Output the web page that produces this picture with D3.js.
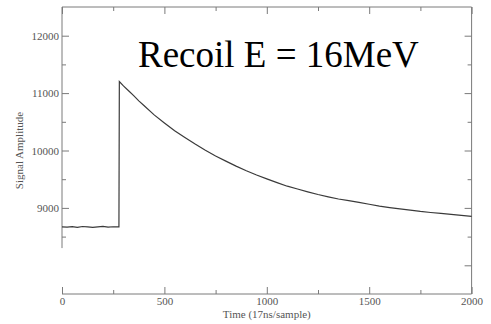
<!DOCTYPE html>
<html>
<head>
<meta charset="utf-8">
<script src="https://cdn.jsdelivr.net/npm/d3@7/dist/d3.min.js"></script>
<style>
  html, body { margin: 0; padding: 0; background: #fff; }
  svg { display: block; }
  text { font-family: "Liberation Serif", "Times New Roman", "DejaVu Serif", serif; }
</style>
</head>
<body>
<svg id="chart" width="491" height="324"></svg>
<script>
// ---- data ----
const sampleTime = [0, 25, 50, 75, 100, 125, 150, 175, 200, 225, 250, 278,
  280, 300, 325, 350, 375, 400, 450, 500, 550, 600, 650, 700, 750, 800, 850,
  900, 950, 1000, 1050, 1100, 1150, 1200, 1250, 1300, 1350, 1400, 1450, 1500,
  1550, 1600, 1650, 1700, 1750, 1800, 1850, 1900, 1950, 2000];
const amplitude = [8670, 8665, 8674, 8660, 8676, 8668, 8661, 8671, 8679, 8664, 8672, 8668,
  11200, 11125, 11040, 10955, 10865, 10785, 10620, 10480, 10345, 10228, 10112, 10005,
  9905, 9815, 9728, 9648, 9574, 9505, 9440, 9378, 9330, 9280, 9233, 9192, 9155, 9126,
  9095, 9064, 9030, 9006, 8984, 8960, 8938, 8920, 8904, 8886, 8870, 8852];

const xMajorTicks = [0, 500, 1000, 1500, 2000];
const xMinorTicks = [250, 750, 1250, 1750];
const yLabelTicks = [9000, 10000, 11000, 12000];
const yLabelMinor = [8500, 9500, 10500, 11500];
const yRightMajor = [8000, 9000, 10000, 11000, 12000];
const yRightMinor = [8500, 9500, 10500, 11500];
const xDomain = [0, 2000];
const yDomain = [7500, 12500];
const leftAxisLowEnd = 8300;   // left frame line visibly stops here
const xTitle = "Time (17ns/sample)";
const yTitle = "Signal Amplitude";
const annotation = "Recoil E = 16MeV";

// ---- layout ----
const svg = d3.select("#chart");
const L = 62, R = 471.6, T = 7, B = 294;
const x = d3.scaleLinear().domain(xDomain).range([L, R]);
const y = d3.scaleLinear().domain(yDomain).range([B, T]);
const axisColor = "#7a7a7a";
const textColor = "#555";
const MAJ = 7, MIN = 4;

function style(g) {
  g.selectAll("path.domain").remove();
  g.selectAll(".tick line").attr("stroke", axisColor).attr("stroke-width", 1);
  g.selectAll(".tick text").attr("fill", textColor)
    .style("font-family", '"Liberation Serif", "Times New Roman", serif')
    .style("font-size", "11px");
}

// frame lines
const frame = svg.append("g").attr("stroke", axisColor).attr("stroke-width", 1).attr("fill", "none");
frame.append("line").attr("x1", L).attr("x2", R).attr("y1", B).attr("y2", B);   // bottom
frame.append("line").attr("x1", L).attr("x2", R).attr("y1", T).attr("y2", T);   // top
frame.append("line").attr("x1", R).attr("x2", R).attr("y1", T).attr("y2", B);   // right
frame.append("line").attr("x1", L).attr("x2", L).attr("y1", T).attr("y2", y(leftAxisLowEnd)); // left (truncated)

// bottom axis
svg.append("g").attr("transform", `translate(0,${B})`)
  .call(d3.axisBottom(x).tickValues(xMajorTicks).tickSizeInner(-MAJ).tickSizeOuter(0).tickPadding(3).tickFormat(d3.format("d")))
  .call(style);
svg.append("g").attr("transform", `translate(0,${B})`)
  .call(d3.axisBottom(x).tickValues(xMinorTicks).tickSizeInner(-MIN).tickSizeOuter(0).tickFormat(""))
  .call(style);

// top axis (ticks only)
svg.append("g").attr("transform", `translate(0,${T})`)
  .call(d3.axisTop(x).tickValues(xMajorTicks).tickSizeInner(-MAJ).tickSizeOuter(0).tickFormat(""))
  .call(style);
svg.append("g").attr("transform", `translate(0,${T})`)
  .call(d3.axisTop(x).tickValues(xMinorTicks).tickSizeInner(-MIN).tickSizeOuter(0).tickFormat(""))
  .call(style);

// left axis
svg.append("g").attr("transform", `translate(${L},0)`)
  .call(d3.axisLeft(y).tickValues(yLabelTicks).tickSizeInner(-MAJ).tickSizeOuter(0).tickPadding(3).tickFormat(d3.format("d")))
  .call(style);
svg.append("g").attr("transform", `translate(${L},0)`)
  .call(d3.axisLeft(y).tickValues(yLabelMinor).tickSizeInner(-MIN).tickSizeOuter(0).tickFormat(""))
  .call(style);

// right axis (ticks only)
svg.append("g").attr("transform", `translate(${R},0)`)
  .call(d3.axisRight(y).tickValues(yRightMajor).tickSizeInner(-MAJ).tickSizeOuter(0).tickFormat(""))
  .call(style);
svg.append("g").attr("transform", `translate(${R},0)`)
  .call(d3.axisRight(y).tickValues(yRightMinor).tickSizeInner(-MIN).tickSizeOuter(0).tickFormat(""))
  .call(style);

// signal line
const pts = sampleTime.map((t, i) => [t, amplitude[i]]);
svg.append("path")
  .datum(pts)
  .attr("fill", "none")
  .attr("stroke", "#3a3a3a")
  .attr("stroke-width", 1.2)
  .attr("d", d3.line().x(d => x(d[0])).y(d => y(d[1])));

// titles
svg.append("text")
  .attr("x", (L + R) / 2).attr("y", 318)
  .attr("text-anchor", "middle")
  .attr("fill", textColor)
  .style("font-size", "11px")
  .text(xTitle);

svg.append("text")
  .attr("transform", `translate(23,${(T + B) / 2}) rotate(-90)`)
  .attr("text-anchor", "middle")
  .attr("fill", textColor)
  .style("font-size", "11px")
  .text(yTitle);

svg.append("text")
  .attr("x", 138).attr("y", 67)
  .attr("fill", "#000")
  .style("font-size", "37px")
  .text(annotation);
</script>
</body>
</html>
